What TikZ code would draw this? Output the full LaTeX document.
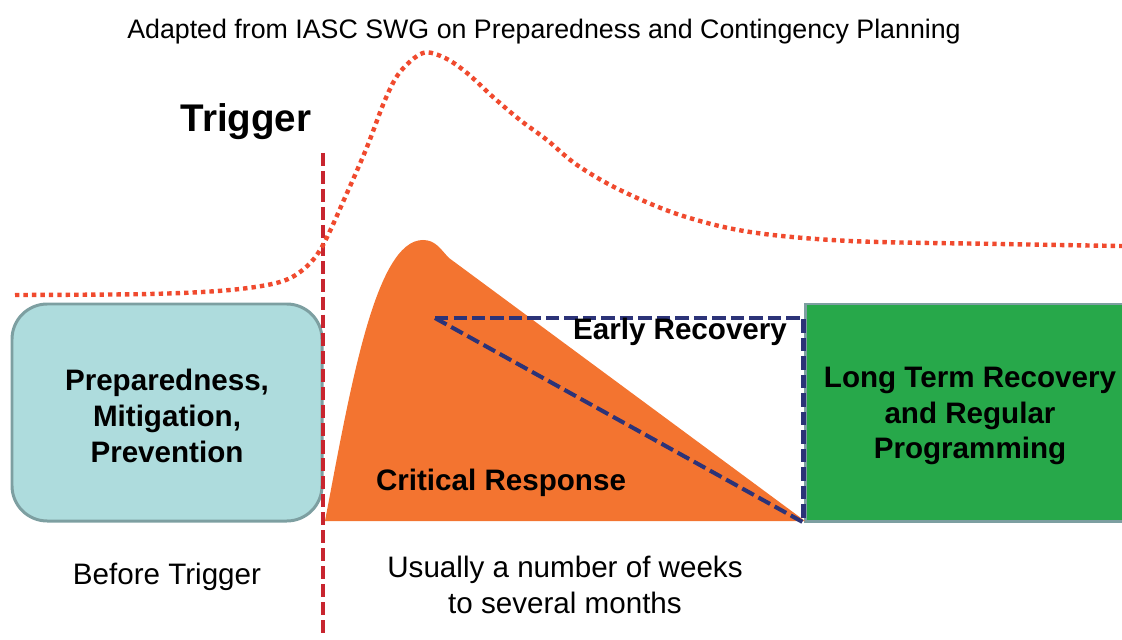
\documentclass[tikz,border=0pt]{standalone}
\usepackage{fontspec}
\setmainfont{Liberation Sans}
\definecolor{prepfill}{HTML}{AEDCDD}
\definecolor{boxedge}{HTML}{7D9FA1}
\definecolor{ltrgreen}{HTML}{27A84A}
\definecolor{crorange}{HTML}{F37430}
\definecolor{ernavy}{HTML}{2C3378}
\definecolor{trigred}{HTML}{C8252F}
\definecolor{riskdot}{HTML}{F04A2E}
\tikzset{
  phasebox/.style={draw=boxedge, line width=1.7pt, minimum width=#1*0.5677pt,
    minimum height=217*0.5677pt, align=center, font=\fontsize{16.8}{20.3}\selectfont\bfseries, inner sep=0pt},
  bigtext/.style={font=\fontsize{16.8}{20.3}\selectfont, align=center},
  boldtext/.style={font=\fontsize{16.8}{20.3}\selectfont\bfseries, align=center},
  erline/.style={draw=ernavy, line width=2.3pt, dash pattern=on 7.5pt off 3pt},
  trigline/.style={draw=trigred, line width=2.1pt, dash pattern=on 7.4pt off 2.8pt},
  riskline/.style={draw=riskdot, line width=2.5pt, dash pattern=on 2.5pt off 2.3pt}
}
\begin{document}
\begin{tikzpicture}[x=0.5677pt, y=-0.5677pt]
\useasboundingbox (0,0) rectangle (1122,640);

% title
\node[font=\fontsize{15.2}{18}\selectfont] (title) at (544,32) {Adapted from IASC SWG on Preparedness and Contingency Planning};
\node[font=\fontsize{21.9}{26}\selectfont\bfseries] (trigger) at (246,122) {Trigger};

% phase boxes
\node[phasebox=310, fill=prepfill, rounded corners=20pt] (prep) at (167,412.5) {};
\node[boldtext] (preptext) at (167,416) {Preparedness,\\Mitigation,\\Prevention};
\node[phasebox=330, fill=ltrgreen] (ltr) at (970,412.5) {};
\node[boldtext] (ltrtext) at (970,416) {Long Term Recovery\\and Regular\\Programming};

% critical response wedge
\fill[crorange] (325,521) .. controls (350,390) and (375,240) .. (423,240)
  .. controls (436,240) and (441,250) .. (449,258) -- (805,521) -- cycle;

% early recovery triangle
\coordinate (erA) at (435,318);
\coordinate (erB) at (ltr.south west);
\coordinate (erC) at (ltr.west |- erA);
\draw[erline] (erA) -- (erC) -- (erB);
\draw[erline] (erA) -- (erB);

% labels
\node[boldtext] (ertext) at (680,332) {Early Recovery};
\node[boldtext] (crtext) at (501,483) {Critical Response};
\node[bigtext] (before) at (167,577) {Before Trigger};
\node[bigtext] (dur) at (565,585) {Usually a number of weeks\\to several months};

% trigger line
\coordinate (tTop) at (323,153);
\coordinate (tBot) at (323,636);
\draw[trigline] (tTop) -- (tBot);

% risk curve
\draw[riskline] plot[smooth, tension=0.55] coordinates {
  (15,295) (150,294) (230,290) (280,282) (305,268) (323,245) (347,193)
  (367,147) (385,100) (400,72) (423,53) (445,58) (467,73) (493,97)
  (520,120) (547,140) (577,165) (620,190) (680,215) (750,232) (850,241)
  (1000,244) (1122,246)};
\end{tikzpicture}
\end{document}
